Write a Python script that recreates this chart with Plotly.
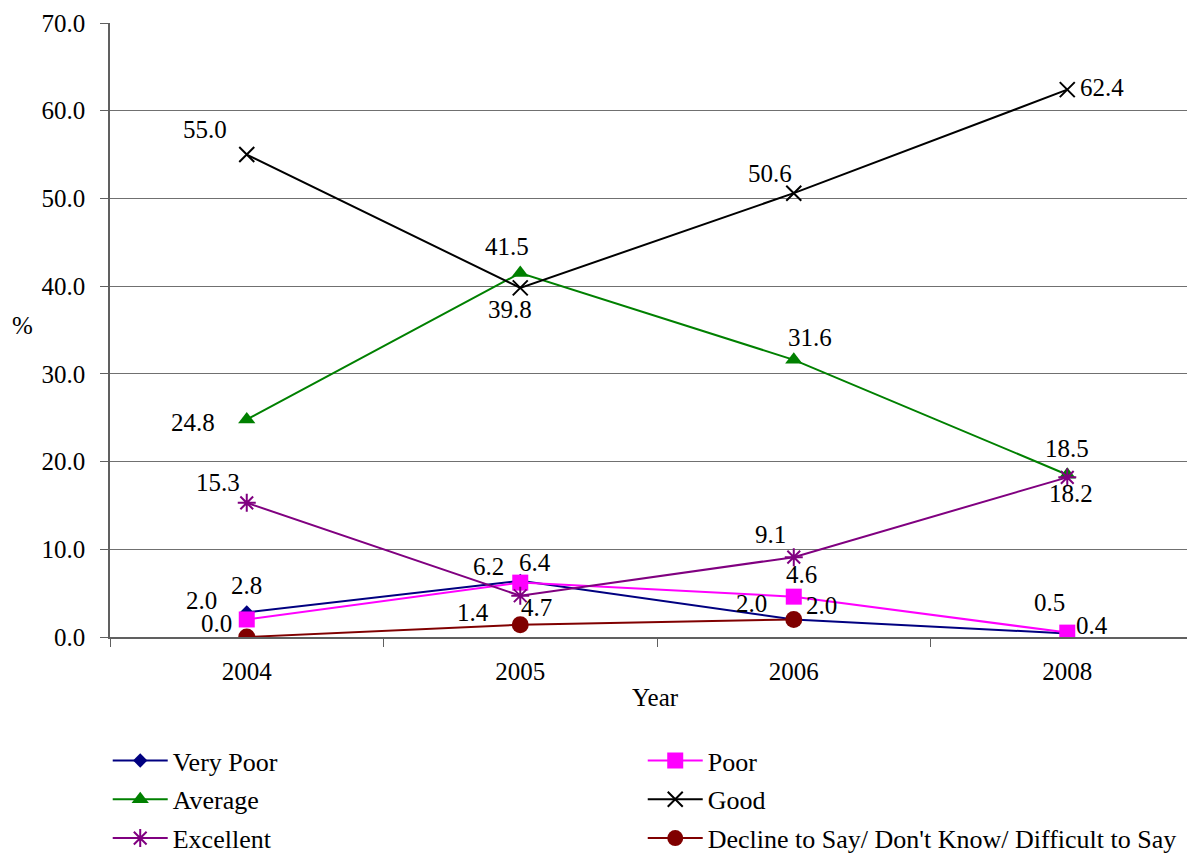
import plotly.graph_objects as go

years = ["2004", "2005", "2006", "2008"]
very_poor = [2.8, 6.4, 2.0, 0.4]
poor = [2.0, 6.2, 4.6, 0.5]
average = [24.8, 41.5, 31.6, 18.5]
good = [55.0, 39.8, 50.6, 62.4]
excellent = [15.3, 4.7, 9.1, 18.2]
decline = [0.0, 1.4, 2.0, None]

y_ticks = [0, 10, 20, 30, 40, 50, 60, 70]

FONT = "Liberation Serif"
FS = 25

series = [
    ("Very Poor", very_poor, "#000080", "diamond", 11, "legend"),
    ("Poor", poor, "#FF00FF", "square", 16, "legend2"),
    ("Average", average, "#008000", "triangle-up", 15, "legend"),
    ("Good", good, "#000000", "x-thin", 15, "legend2"),
    ("Excellent", excellent, "#800080", "asterisk", 15, "legend"),
    ("Decline to Say/ Don't Know/ Difficult to Say", decline, "#800000", "circle", 17, "legend2"),
]

# label pixel offsets (dx right, dy down) per series per point
label_offsets = {
    "Very Poor": [(0, -27), (15, -18), (-42, -16), (25, -8)],
    "Poor": [(-45, -19), (-32, -16), (8, -22), (-18, -30)],
    "Average": [(-54, 3), (-13, -26), (16, -22), (0, -26)],
    "Good": [(-42, -25), (-10, 22), (-24, -20), (35, -2)],
    "Excellent": [(-29, -20), (16, 12), (-23, -23), (4, 16)],
    "Decline to Say/ Don't Know/ Difficult to Say": [(-30, -14), (-47, -12), (28, -14), (0, 0)],
}

fig = go.Figure()
annotations = []
for i, (name, vals, color, sym, size, leg) in enumerate(series):
    mline = dict(width=0)
    if sym in ("x-thin", "asterisk"):
        mline = dict(width=2, color=color)
    fig.add_trace(go.Scatter(
        x=years, y=vals, name=name, mode="lines+markers",
        line=dict(color=color, width=2),
        marker=dict(symbol=sym, size=size, color=color, line=mline),
        legend=leg, legendgroup=name,
    ))
    for j, v in enumerate(vals):
        if v is None:
            continue
        dx, dy = label_offsets[name][j]
        annotations.append(dict(
            x=j, y=v, xref="x", yref="y", text=f"{v:.1f}",
            showarrow=False, xshift=dx, yshift=-dy,
            xanchor="center", yanchor="middle",
            font=dict(family=FONT, size=FS, color="black"),
        ))

annotations.append(dict(x=-0.0811, y=0.508, xref="paper", yref="paper", text="%",
                        xanchor="center", yanchor="middle",
                        showarrow=False, font=dict(family=FONT, size=FS, color="black")))
annotations.append(dict(x=0.503, y=-0.0993, xref="paper", yref="paper", text="Year",
                        xanchor="center", yanchor="middle",
                        showarrow=False, font=dict(family=FONT, size=FS, color="black")))

legend_common = dict(
    orientation="v", xanchor="left", yanchor="top",
    font=dict(family=FONT, size=26, color="black"),
    bgcolor="rgba(0,0,0,0)", tracegroupgap=2, itemwidth=55,
    itemclick=False,
)

fig.update_layout(
    width=1187, height=845,
    margin=dict(l=102, r=0, t=15, b=216, autoexpand=False),
    plot_bgcolor="white", paper_bgcolor="white",
    showlegend=True,
    legend=dict(x=-0.0021, y=-0.163, **legend_common),
    legend2=dict(x=0.491, y=-0.163, **legend_common),
    annotations=annotations,
    font=dict(family=FONT, size=FS, color="black"),
)
fig.update_xaxes(
    type="category", range=[-0.5, 3.467], automargin=False,
    showline=True, linecolor="#606060", linewidth=1.5,
    ticks="outside", tickson="boundaries", ticklen=8, tickcolor="#606060",
    ticklabelstandoff=11,
    showgrid=False, tickfont=dict(family=FONT, size=FS, color="black"),
)
fig.update_yaxes(
    range=[0, 70], tickvals=y_ticks, tickformat=".1f", automargin=False,
    showline=True, linecolor="#606060", linewidth=1.5,
    ticks="outside", ticklen=8, tickcolor="#606060",
    ticklabelstandoff=10,
    showgrid=True, gridcolor="#707070", gridwidth=1, zeroline=False,
    tickfont=dict(family=FONT, size=FS, color="black"),
)

fig.write_html("out.html")
